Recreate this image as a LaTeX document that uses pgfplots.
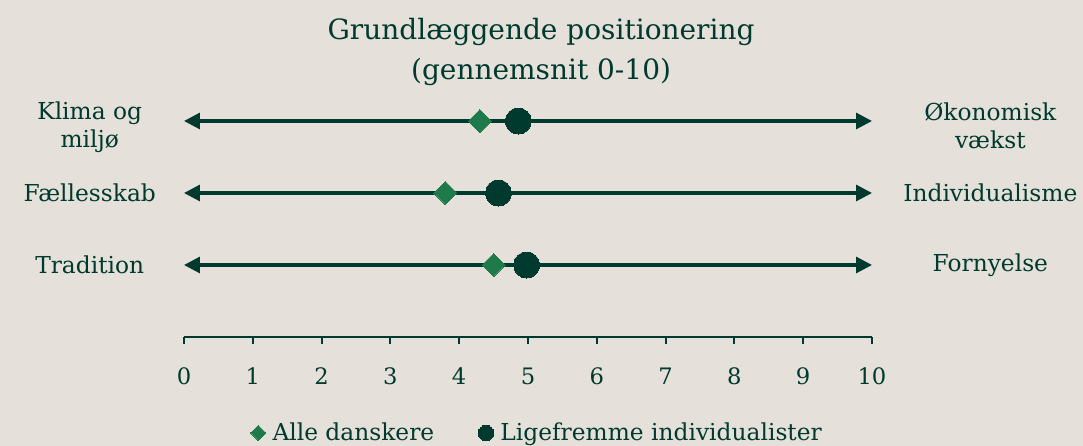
\documentclass[border=0pt]{standalone}
\usepackage{fontspec}
\setmainfont{DejaVu Serif}
\usepackage{pgfplots}
\pgfplotsset{compat=1.18}
\usetikzlibrary{arrows.meta,backgrounds}

\definecolor{dk}{HTML}{003A2E}
\definecolor{gr}{HTML}{1F7A4B}
\definecolor{bg}{HTML}{E5E0DA}

\begin{document}
\begin{tikzpicture}
\begin{axis}[
    x=51.6pt, y=54pt,
    xmin=0, xmax=10, ymin=0, ymax=3.2,
    enlargelimits=false,
    clip=false,
    axis y line=none,
    axis x line=bottom,
    x axis line style={-, dk, line width=1.6pt},
    xtick={0,...,10},
    tick align=outside,
    major tick length=5.5pt,
    tick style={dk, line width=1.6pt},
    /pgf/number format/assume math mode=true,
    xticklabel style={font=\fontsize{17}{20}\selectfont, text=dk, yshift=-14pt},
    legend columns=2,
    legend style={at={(axis cs:5.14,-1.333)}, anchor=center, draw=none, fill=none,
        font=\fontsize{17.5}{20}\selectfont, text=dk,
        /tikz/every odd column/.append style={column sep=3pt},
        /tikz/every even column/.append style={column sep=31pt}},
]
% arrows
\addplot[dk, line width=2.3pt, {Triangle[length=12pt,width=12pt]}-{Triangle[length=12pt,width=12pt]}, forget plot]
    coordinates {(0,3) (10,3)};
\addplot[dk, line width=2.3pt, {Triangle[length=12pt,width=12pt]}-{Triangle[length=12pt,width=12pt]}, forget plot]
    coordinates {(0,2) (10,2)};
\addplot[dk, line width=2.3pt, {Triangle[length=12pt,width=12pt]}-{Triangle[length=12pt,width=12pt]}, forget plot]
    coordinates {(0,1) (10,1)};

% Alle danskere
\addplot[only marks, gr, mark=square*, mark size=6.1pt,
    mark options={rotate=45, fill=gr, draw=gr, line width=0pt}, forget plot]
    coordinates {(4.30,3) (3.80,2) (4.50,1)};
% Ligefremme individualister
\addplot[only marks, dk, mark=*, mark size=9.75pt,
    mark options={fill=dk, draw=dk, line width=0pt}, forget plot]
    coordinates {(4.86,3) (4.57,2) (4.98,1)};

\addlegendimage{only marks, gr, mark=square*, mark size=4pt, mark options={rotate=45, fill=gr, draw=gr, line width=0pt}}
\addlegendentry{Alle danskere}
\addlegendimage{only marks, dk, mark=*, mark size=5.8pt, mark options={fill=dk, draw=dk, line width=0pt}}
\addlegendentry{Ligefremme individualister}

% title and row labels
\node[font=\fontsize{21}{30}\selectfont, text=dk, align=center] at (axis cs:5.19,3.96)
    {Grundlæggende positionering\\(gennemsnit 0-10)};
\node[font=\fontsize{17.5}{21}\selectfont, text=dk, align=center] at (axis cs:-1.37,2.92) {Klima og\\miljø};
\node[font=\fontsize{17.5}{21}\selectfont, text=dk] at (axis cs:-1.37,2) {Fællesskab};
\node[font=\fontsize{17.5}{21}\selectfont, text=dk] at (axis cs:-1.37,1) {Tradition};
\node[font=\fontsize{17.5}{21}\selectfont, text=dk, align=center] at (axis cs:11.72,2.93) {Økonomisk\\vækst};
\node[font=\fontsize{17.5}{21}\selectfont, text=dk] at (axis cs:11.72,2) {Individualisme};
\node[font=\fontsize{17.5}{21}\selectfont, text=dk] at (axis cs:11.72,1) {Fornyelse};

\coordinate (bl) at (axis cs:-2.6744,-1.5139);
\coordinate (tr) at (axis cs:13.0669,4.6806);
\end{axis}
\begin{scope}[on background layer]
\fill[bg] (bl) rectangle (tr);
\end{scope}
\pgfresetboundingbox
\useasboundingbox (bl) rectangle (tr);
\end{tikzpicture}
\end{document}
